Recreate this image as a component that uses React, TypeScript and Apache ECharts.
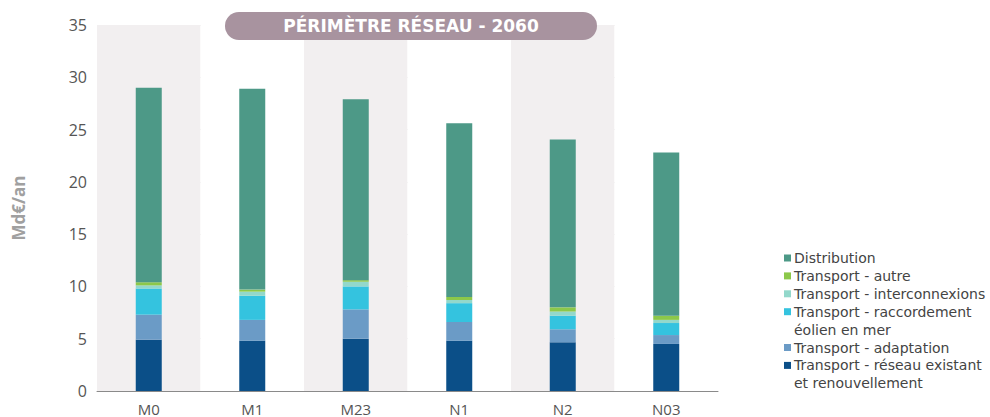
import React, { useEffect, useRef } from "react";
import * as echarts from "echarts";

const categories = ["M0", "M1", "M23", "N1", "N2", "N03"];
const existant = [4.9, 4.8, 5.0, 4.8, 4.65, 4.5];
const adaptation = [2.4, 2.0, 2.8, 1.8, 1.25, 0.85];
const raccordement = [2.5, 2.3, 2.2, 1.8, 1.3, 1.15];
const interconnexions = [0.3, 0.4, 0.45, 0.3, 0.4, 0.3];
const autre = [0.3, 0.2, 0.15, 0.3, 0.4, 0.4];
const distribution = [18.6, 19.2, 17.3, 16.6, 16.05, 15.6];

const seriesNames = [
  "Transport - réseau existant et renouvellement",
  "Transport - adaptation",
  "Transport - raccordement éolien en mer",
  "Transport - interconnexions",
  "Transport - autre",
  "Distribution",
];
const seriesData = [existant, adaptation, raccordement, interconnexions, autre, distribution];
const colors = ["#0b4f88", "#6b9bc6", "#34c3df", "#93d8cb", "#8cc84a", "#4d9987"];

// legend rows (top to bottom), text lines
const legendRows: { color: string; lines: string[] }[] = [
  { color: "#4d9987", lines: ["Distribution"] },
  { color: "#8cc84a", lines: ["Transport - autre"] },
  { color: "#93d8cb", lines: ["Transport - interconnexions"] },
  { color: "#34c3df", lines: ["Transport - raccordement", "éolien en mer"] },
  { color: "#6b9bc6", lines: ["Transport - adaptation"] },
  { color: "#0b4f88", lines: ["Transport - réseau existant", "et renouvellement"] },
];

export default function App() {
  const ref = useRef<HTMLDivElement>(null);
  useEffect(() => {
    if (!ref.current) return;
    const chart = echarts.init(ref.current, undefined, { renderer: "svg" });

    const legendGraphics: any[] = [];
    let line = 0;
    const lx = 784;
    const ly0 = 258;
    const lh = 17.9;
    legendRows.forEach((row) => {
      const cy = ly0 + line * lh;
      legendGraphics.push({
        type: "rect",
        shape: { x: lx, y: cy - 3.5, width: 7, height: 7 },
        style: { fill: row.color },
      });
      row.lines.forEach((t, i) => {
        legendGraphics.push({
          type: "text",
          x: lx + 10,
          y: cy + i * lh,
          style: {
            text: t,
            fill: "#444444",
            font: "14px 'DejaVu Sans'",
            verticalAlign: "middle",
            textAlign: "left",
          },
        });
      });
      line += row.lines.length;
    });

    chart.setOption({
      animation: false,
      grid: { left: 97, right: 272, top: 25, bottom: 26, containLabel: false },
      xAxis: {
        type: "category",
        data: categories,
        axisLine: { show: true, lineStyle: { color: "#8a8a8a", width: 1 } },
        axisTick: { show: false },
        axisLabel: { color: "#555555", fontSize: 15, fontFamily: "Open Sans", margin: 10 },
        splitArea: { show: true, areaStyle: { color: ["#f2eff0", "#ffffff"] } },
      },
      yAxis: {
        type: "value",
        min: 0,
        max: 35,
        interval: 5,
        name: "Md€/an",
        nameLocation: "middle",
        nameGap: 70,
        nameTextStyle: { color: "#a0a0a0", fontSize: 17, fontWeight: "bold", fontFamily: "Open Sans" },
        axisLine: { show: false },
        axisTick: { show: false },
        axisLabel: { color: "#555555", fontSize: 16, fontFamily: "Open Sans", margin: 10 },
        splitLine: { lineStyle: { color: "#e2e2e2", width: 1 } },
      },
      series: seriesNames.map((name, i) => ({
        name,
        type: "bar",
        stack: "total",
        barWidth: 26,
        data: seriesData[i],
        itemStyle: { color: colors[i] },
      })),
      graphic: [
        {
          type: "rect",
          shape: { x: 225, y: 12, width: 372, height: 28, r: 14 },
          style: { fill: "#a8939f" },
          z: 10,
        },
        {
          type: "text",
          x: 411,
          y: 26,
          z: 11,
          style: {
            text: "PÉRIMÈTRE RÉSEAU - 2060",
            fill: "#ffffff",
            font: "bold 17px 'DejaVu Sans'",
            textAlign: "center",
            verticalAlign: "middle",
          },
        },
        ...legendGraphics,
      ],
    });
    return () => chart.dispose();
  }, []);
  return (
    <div
      ref={ref}
      style={{ position: "absolute", left: 0, top: 0, width: 990, height: 417 }}
    />
  );
}
